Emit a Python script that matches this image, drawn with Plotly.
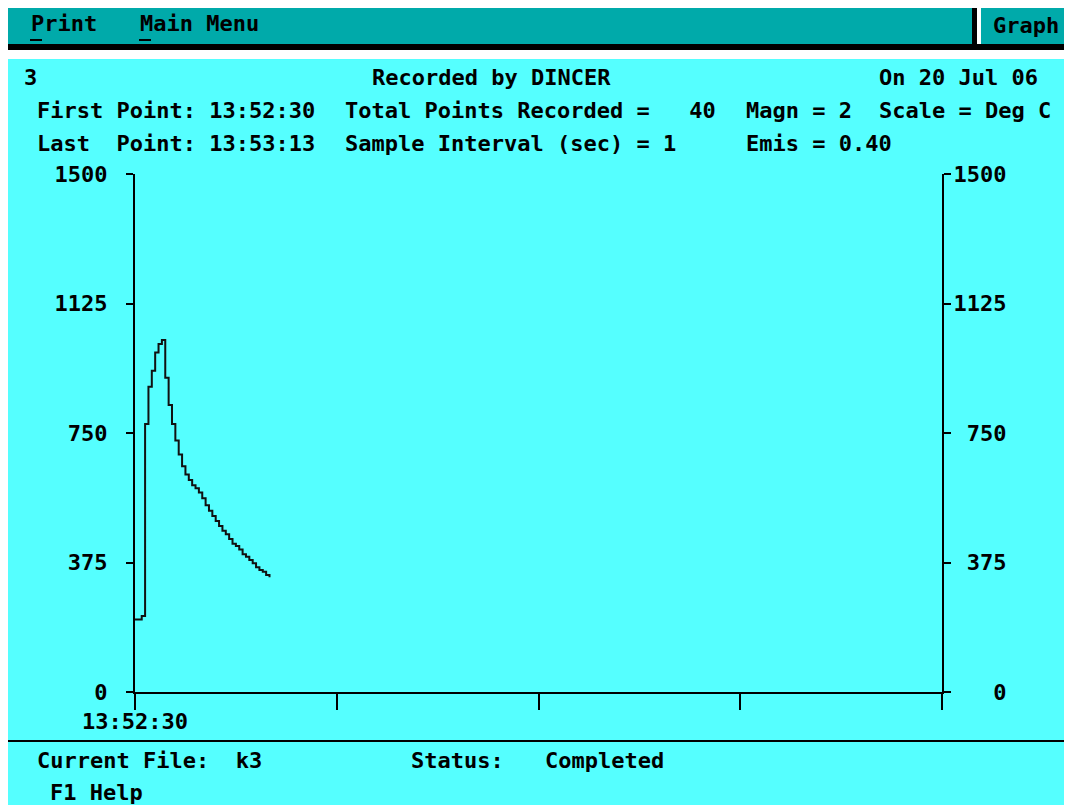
import plotly.graph_objects as go

# ---- data ----
seconds = list(range(41))
temps = [210, 210, 220, 776, 884, 930, 983, 1008, 1019, 910,
         831, 776, 728, 688, 654, 630, 614, 599, 590, 578,
         561, 541, 525, 510, 495, 481, 467, 457, 443, 429,
         423, 413, 399, 392, 382, 373, 361, 353, 348, 339, 332]
y_ticks = [0, 375, 750, 1125, 1500]
y_tick_labels = ["0", "375", "750", "1125", "1500"]
x_ticks = [0, 60, 120, 180, 240]
x_tick_labels = ["13:52:30", "", "", "", ""]

header_1 = [(23, 78, "3"), (371, 78, "Recorded by DINCER"), (878, 78, "On 20 Jul 06")]
header_2 = [(36, 111, "First Point: 13:52:30"), (344, 111, "Total Points Recorded =   40"),
            (745, 111, "Magn = 2"), (878, 111, "Scale = Deg C")]
header_3 = [(36, 143, "Last  Point: 13:53:13"), (344, 143, "Sample Interval (sec) = 1"),
            (745, 143, "Emis = 0.40")]
menu_items = [(30, 24, "Print"), (139, 24, "Main Menu"), (992, 26, "Graph")]
footer = [(36, 760, "Current File:  k3"), (410, 760, "Status:"), (544, 760, "Completed"),
          (49, 792, "F1 Help")]

# right-hand labels are right-aligned in a 4-character field (monospace)
right_tick_labels = [lbl.rjust(4).replace(" ", "\u00a0") for lbl in y_tick_labels]

# ---- layout geometry (page coords; the page body adds an 8px offset) ----
OFF = 8
PAGE_W, PAGE_H = 1072, 805
W, H = PAGE_W - OFF, PAGE_H - OFF
L, R, T, B = 135, 942, 174, 692   # plot area in page coords
PW, PH = R - L, B - T
FONT = "DejaVu Sans Mono"
CYAN = "#55FFFF"
TEAL = "#00AAAA"


def px(x):
    return (x - L) / PW


def py(y):
    return (B - y) / PH


fig = go.Figure()
fig.add_trace(go.Scatter(x=seconds, y=temps, mode="lines", line_shape="hv",
                         line=dict(color="#111111", width=2), showlegend=False,
                         hoverinfo="skip"))
fig.add_trace(go.Scatter(x=[], y=[], yaxis="y2", mode="lines", showlegend=False,
                         hoverinfo="skip"))

shapes = []


def rect(x0, y0, x1, y1, color, layer="below"):
    shapes.append(dict(type="rect", xref="paper", yref="paper",
                       x0=px(x0), x1=px(x1), y0=py(y1), y1=py(y0),
                       fillcolor=color, line=dict(width=0), layer=layer))


rect(OFF, 59, PAGE_W, PAGE_H, CYAN)
rect(OFF, OFF, 972, 44, TEAL)
rect(981, OFF, PAGE_W, 44, TEAL)
rect(OFF, 44, PAGE_W, 50, "#000000")
rect(972, OFF, 977, 50, "#000000")
rect(OFF, 740, PAGE_W, 742, "#000000")
rect(30, 39, 42, 41, "#000000")
rect(139, 39, 151, 41, "#000000")

annotations = []
for x, y, t in header_1 + header_2 + header_3 + menu_items + footer:
    annotations.append(dict(xref="paper", yref="paper", x=px(x), y=py(y), text=t,
                            showarrow=False, xanchor="left", yanchor="middle",
                            font=dict(family=FONT, size=22, color="black", weight="bold"),
                            borderpad=0))

axis_font = dict(family=FONT, size=22, color="black", weight="bold")
fig.update_layout(
    width=W, height=H,
    margin=dict(l=L - OFF, r=PAGE_W - R, t=T - OFF, b=PAGE_H - B, pad=0),
    paper_bgcolor="white", plot_bgcolor="rgba(0,0,0,0)",
    shapes=shapes, annotations=annotations,
    xaxis=dict(range=[0, 240], tickvals=x_ticks, ticktext=x_tick_labels,
               showline=True, linecolor="black", linewidth=2, ticks="outside",
               ticklen=16, tickwidth=2, tickcolor="black", showgrid=False,
               zeroline=False, tickfont=axis_font, ticklabelstandoff=-7, fixedrange=True),
    yaxis=dict(range=[0, 1500], tickvals=y_ticks, ticktext=y_tick_labels,
               showline=True, linecolor="black", linewidth=2, ticks="outside",
               ticklen=7, tickwidth=2, tickcolor="black", showgrid=False,
               zeroline=False, tickfont=axis_font, ticklabelstandoff=14, fixedrange=True),
    yaxis2=dict(range=[0, 1500], tickvals=y_ticks, ticktext=right_tick_labels,
                overlaying="y", side="right", anchor="x",
                showline=True, linecolor="black", linewidth=2, ticks="outside",
                ticklen=7, tickwidth=2, tickcolor="black", showgrid=False,
                zeroline=False, tickfont=axis_font, ticklabelstandoff=-2, fixedrange=True),
    showlegend=False,
)

fig.write_html("out.html")
